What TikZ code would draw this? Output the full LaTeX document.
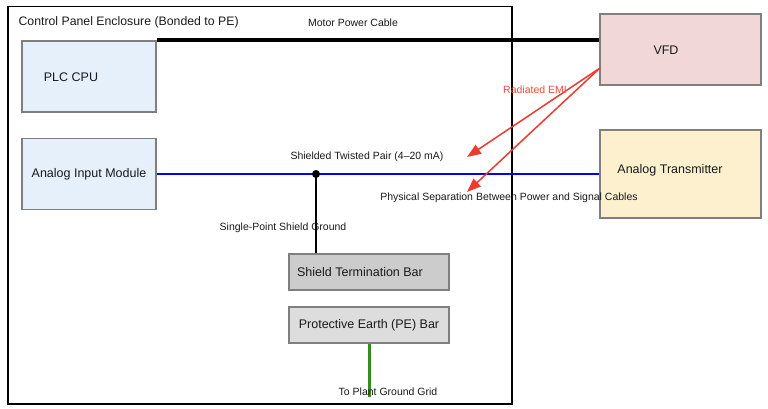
\documentclass[tikz,border=0pt]{standalone}
\usepackage{fontspec}
\setmainfont{Liberation Sans}
\usepackage{tikz}
\usetikzlibrary{positioning,calc,arrows.meta}
\usepackage{xcolor}
\definecolor{plcblue}{HTML}{E6F0FB}
\definecolor{vfdpink}{HTML}{F2D7D9}
\definecolor{xmtryellow}{HTML}{FCF0CF}
\definecolor{barshield}{HTML}{CCCCCC}
\definecolor{barpe}{HTML}{DDDDDD}
\definecolor{edgegray}{HTML}{7F7F7F}
\definecolor{emired}{HTML}{EE3B2E}
\definecolor{emitext}{HTML}{F04A40}
\definecolor{gndgreen}{HTML}{3A8A22}
\definecolor{inktext}{HTML}{1A1A1A}

\begin{document}
\begin{tikzpicture}[x=1pt, y=-1pt,
    box/.style={draw=edgegray, line width=1.5pt, inner sep=0pt, text=inktext, font=\fontsize{12.5}{14}\selectfont},
    boxtext/.style={text=inktext, font=\fontsize{12.5}{14}\selectfont},
    wirelbl/.style={text=inktext, font=\fontsize{10.5}{12}\selectfont},
    emi/.style={draw=emired, line width=1.5pt, -{Triangle[length=14pt,width=10.5pt]}}]
    \useasboundingbox (0,0) rectangle (768,409);

    % Enclosure
    \node[draw, line width=1.5pt, minimum width=504pt, minimum height=397pt, anchor=north west] (panel) at (7,6) {};
    \node[anchor=west, text=inktext, font=\fontsize{12.3}{14}\selectfont] (paneltitle) at (15,22) {Control Panel Enclosure (Bonded to PE)};

    % Devices inside the panel
    \node[box, fill=plcblue, minimum width=134pt, minimum height=71pt] (plc) at (89,76.5) {};
    \node[boxtext] (plclbl) at (71,77) {PLC CPU};
    \node[box, fill=plcblue, minimum width=134pt, minimum height=71pt] (aim) at (89,174) {Analog Input Module};

    % Field devices
    \node[box, fill=vfdpink, minimum width=161pt, minimum height=71pt] (vfd) at (680.5,49.5) {};
    \node[boxtext] (vfdlbl) at (666,50) {VFD};
    \node[box, fill=xmtryellow, minimum width=161pt, minimum height=88pt] (xmtr) at (680.5,174) {};
    \node[boxtext] (xmtrlbl) at (670,170) {Analog Transmitter};

    % Ground bars
    \node[box, fill=barshield, minimum width=160pt, minimum height=36pt] (shieldbar) at (369,272) {};
    \node[boxtext] (shieldlbl) at (360,272) {Shield Termination Bar};
    \node[box, fill=barpe, minimum width=160pt, minimum height=36pt] (pebar) at (369,325) {Protective Earth (PE) Bar};

    % Motor power cable
    \draw[line width=3.5pt] (plc.north east) -- (plc.north east -| vfd.west);
    \node[wirelbl] (motorlbl) at (353,23) {Motor Power Cable};

    % Shielded signal pair
    \draw[blue, line width=2.5pt] (aim.east) -- (xmtr.west);
    \node[wirelbl] (stplbl) at (367,157) {Shielded Twisted Pair (4--20 mA)};
    \node[circle, fill, inner sep=0pt, minimum size=8pt] (tap) at (316,174) {};
    \draw[line width=1.5pt] (tap.center) -- (tap |- shieldbar.north);
    \node[wirelbl] (sgndlbl) at (283,228) {Single-Point Shield Ground};

    % Earth connection
    \coordinate (gridend) at (369,397);
    \draw[gndgreen, line width=3pt] (pebar.south) -- (gridend);
    \node[wirelbl] (gridlbl) at (388,392) {To Plant Ground Grid};

    % Radiated EMI
    \coordinate (emisrc) at (600,68);
    \coordinate (emipair) at (467,157);
    \coordinate (emisep) at (467,192);
    \draw[emi] (emisrc) -- (emipair);
    \draw[emi] (emisrc) -- (emisep);
    \node[text=emitext, font=\fontsize{10.5}{12}\selectfont] (emilbl) at (535,90) {Radiated EMI};
    \node[wirelbl] (seplbl) at (509,198) {Physical Separation Between Power and Signal Cables};

\end{tikzpicture}
\end{document}
